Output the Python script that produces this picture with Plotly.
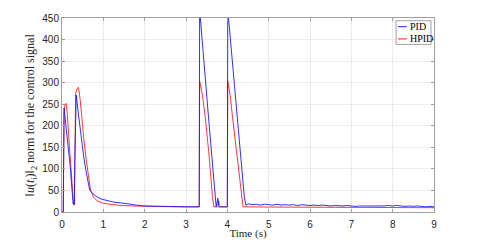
import plotly.graph_objects as go

# ---- PID (blue) ----
pid_t_head = [0, 0.03, 0.05, 0.10, 0.15, 0.20, 0.27, 0.30, 0.31, 0.345, 0.40, 0.47, 0.53, 0.59, 0.67,
              0.75, 0.83, 0.95, 1.10, 1.25, 1.43, 1.60, 1.80, 2.00, 2.30, 2.60, 3.00, 3.32,
              3.33, 3.54, 3.70, 3.73, 3.75, 3.77, 3.78, 3.79, 3.80, 3.81, 3.85, 3.95, 4.00,
              4.01, 4.23, 4.41, 4.45]
pid_v_head = [0, 0, 241, 195, 150, 105, 18, 18, 120, 271, 225, 167, 125, 90, 51,
              42, 36, 30, 26, 23, 21, 18, 16, 14, 13, 12.5, 12, 12,
              470, 225, 36, 12, 22, 32, 15, 26, 14, 12, 12, 12, 12,
              470, 225, 36, 15]
pid_t_tail = [4.5, 4.6, 4.7, 4.8, 4.9, 5.0, 5.1, 5.2, 5.3, 5.4, 5.5, 5.6, 5.7, 5.8, 5.9,
              6.0, 6.1, 6.2, 6.3, 6.4, 6.5, 6.6, 6.7, 6.8, 6.9, 7.0, 7.1, 7.2, 7.3, 7.4,
              7.5, 7.6, 7.7, 7.8, 7.9, 8.0, 8.1, 8.2, 8.3, 8.4, 8.5, 8.6, 8.7, 8.8, 8.9, 9.0]
pid_v_tail = [19, 17, 18, 16, 18, 17, 16, 18, 16, 17, 16, 17, 15, 17, 16,
              15, 16, 15, 16, 15, 14, 15, 14, 14, 15, 14, 13, 14, 14, 13,
              14, 13, 14, 14, 15, 14, 15, 14, 13, 14, 13, 14, 13, 12, 13, 12]

# ---- HPID (red) ----
hpid_t = [0, 0.03, 0.05, 0.07, 0.10, 0.13, 0.18, 0.23, 0.28, 0.30, 0.31, 0.33, 0.37, 0.40,
          0.44, 0.48, 0.53, 0.58, 0.63, 0.69, 0.76, 0.85, 1.0, 1.2, 1.43, 1.7, 2.0, 2.5, 3.0,
          3.32, 3.33, 3.40, 3.46, 3.55, 3.64, 3.67, 3.8, 4.00,
          4.01, 4.07, 4.12, 4.24, 4.35, 4.38, 5.0, 6.0, 7.0, 8.0, 9.0]
hpid_v = [0, 0, 230, 248, 252, 225, 150, 80, 18, 16, 230, 275, 287, 289,
          260, 215, 167, 125, 90, 51, 35, 26, 20, 17, 15, 14, 13, 12.5, 12,
          12, 304, 270, 225, 140, 36, 12, 12, 12,
          304, 270, 225, 130, 36, 12, 11.5, 11, 10.5, 10.5, 10]

x_ticks = [0, 1, 2, 3, 4, 5, 6, 7, 8, 9]
y_ticks = [0, 50, 100, 150, 200, 250, 300, 350, 400, 450]

pid_t = pid_t_head + pid_t_tail
pid_v = pid_v_head + pid_v_tail

BLUE = "#1a1aff"
RED = "#ff2020"
SERIF = "Liberation Serif"
SANS = "Liberation Sans"

fig = go.Figure()
fig.add_trace(go.Scatter(x=hpid_t, y=hpid_v, mode="lines", name="HPID",
                         line=dict(color=RED, width=0.9), showlegend=False))
fig.add_trace(go.Scatter(x=pid_t, y=pid_v, mode="lines", name="PID",
                         line=dict(color=BLUE, width=0.9), showlegend=False))

axis_common = dict(showline=True, linecolor="#a0a0a0", linewidth=1, mirror="ticks",
                   ticks="inside", ticklen=3, tickcolor="#a0a0a0",
                   showgrid=True, gridcolor="#ececec", gridwidth=1, zeroline=False,
                   automargin=False,
                   tickfont=dict(family=SANS, size=10, color="#262626"))

fig.update_xaxes(range=[0, 9], tickvals=x_ticks, ticklabelstandoff=3, **axis_common,
                 title=dict(text="Time (s)", font=dict(family=SERIF, size=11, color="#262626"),
                            standoff=5))
fig.update_yaxes(range=[0, 450], tickvals=y_ticks, **axis_common)

# y-axis title
fig.add_annotation(xref="paper", yref="paper", x=-0.082, y=0.5, xanchor="center", yanchor="middle",
                   textangle=-90, showarrow=False,
                   text="\u2016<i>u</i>(<i>t<sub>i</sub></i>)\u2016<sub>2</sub> norm for the control signal",
                   font=dict(family=SERIF, size=12, color="#262626"))

# legend (drawn manually to match compact look)
fig.add_shape(type="rect", xref="paper", yref="paper", x0=0.898, x1=0.992, y0=0.864, y1=0.986,
              line=dict(color="#a0a0a0", width=1), fillcolor="white", layer="above")
fig.add_shape(type="line", xref="paper", yref="paper", x0=0.903, x1=0.927, y0=0.955, y1=0.955,
              line=dict(color=BLUE, width=1), layer="above")
fig.add_shape(type="line", xref="paper", yref="paper", x0=0.903, x1=0.927, y0=0.892, y1=0.892,
              line=dict(color=RED, width=1), layer="above")
fig.add_annotation(xref="paper", yref="paper", x=0.930, y=0.955, xanchor="left", yanchor="middle",
                   showarrow=False, text="PID", font=dict(family=SERIF, size=10, color="#000000"))
fig.add_annotation(xref="paper", yref="paper", x=0.930, y=0.892, xanchor="left", yanchor="middle",
                   showarrow=False, text="HPID", font=dict(family=SERIF, size=10, color="#000000"))

# page body has an 8px margin, so the figure is shrunk/offset to land the plot where the reference has it
fig.update_layout(width=472, height=232, margin=dict(l=54, r=46, t=10, b=28),
                  paper_bgcolor="white", plot_bgcolor="white", showlegend=False)

fig.write_html("out.html")
